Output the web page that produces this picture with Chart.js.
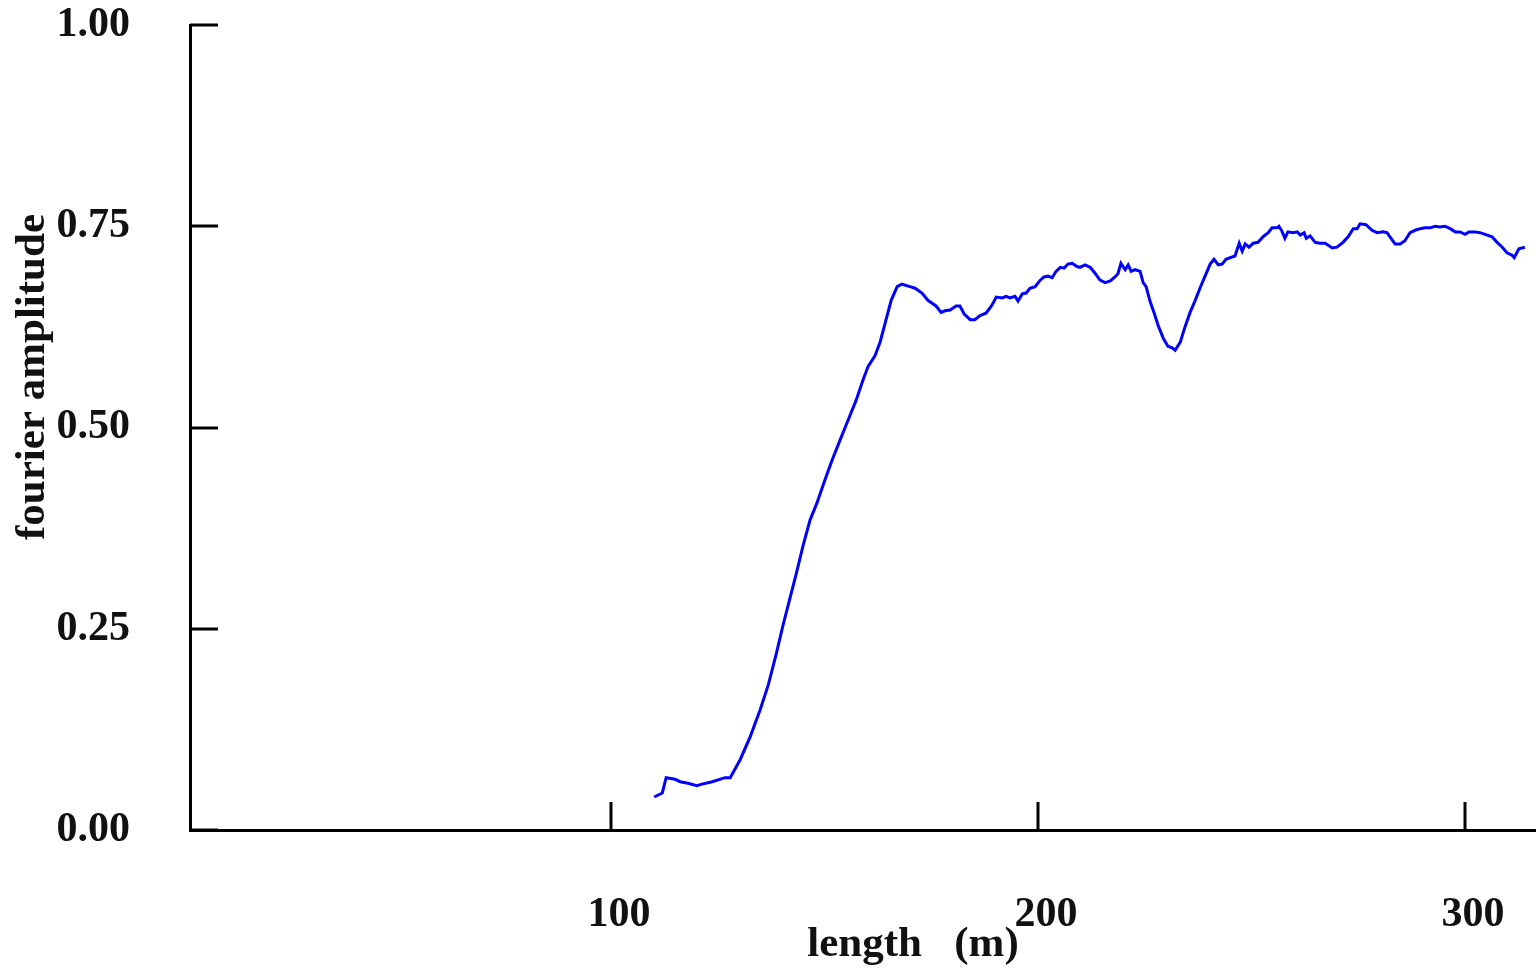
<!DOCTYPE html>
<html>
<head>
<meta charset="utf-8">
<script src="https://cdn.jsdelivr.net/npm/chart.js@4"></script>
<style>
  html, body { margin: 0; padding: 0; background: #fff; }
  #wrap { width: 1536px; height: 971px; position: relative; }
</style>
</head>
<body>
<div id="wrap"><canvas id="chart"></canvas></div>
<script>
// length (m) and fourier amplitude
const lengths = [110.1, 112.0, 112.9, 115.0, 116.2, 118.0, 120.1, 121.3, 123.7, 126.7, 127.9,
  130.2, 132.6, 134.9, 136.8, 138.6, 140.3, 141.9, 143.3, 145.0, 146.6, 148.2, 150.1, 151.8,
  153.6, 155.5, 157.4, 159.0, 160.2, 161.8, 163.0, 164.4, 165.6, 167.0, 168.1, 170.0, 171.2,
  172.8, 174.2, 176.1, 177.3, 178.2, 179.4, 180.8, 181.7, 182.7, 184.1, 185.2, 186.4, 187.8,
  189.2, 190.2, 191.6, 192.5, 193.4, 194.6, 195.3, 196.3, 197.2, 198.1, 199.3, 200.5, 201.4,
  202.3, 203.3, 204.2, 205.2, 206.1, 207.0, 208.0, 209.1, 209.8, 211.0, 212.2, 213.3, 214.5,
  215.7, 216.9, 218.0, 218.7, 219.4, 220.4, 221.1, 221.8, 222.7, 223.9, 224.6, 225.3, 226.2,
  227.2, 228.1, 229.3, 230.4, 231.4, 232.1, 233.3, 234.4, 235.6, 236.8, 237.9, 239.1, 240.3,
  241.2, 242.2, 243.1, 244.0, 245.0, 246.1, 247.1, 247.8, 248.5, 249.4, 250.4, 251.5, 252.7,
  253.9, 254.8, 256.0, 256.4, 257.1, 257.8, 258.5, 259.7, 260.7, 261.4, 262.3, 262.8, 263.7,
  264.9, 266.0, 267.2, 268.9, 270.0, 271.4, 272.6, 273.8, 274.7, 275.4, 276.8, 278.2, 279.4,
  280.8, 281.7, 282.9, 283.6, 284.8, 285.9, 287.1, 288.3, 289.5, 290.6, 291.8, 293.0, 294.1,
  295.3, 296.5, 297.7, 298.8, 300.0, 300.9, 302.3, 303.5, 304.7, 306.3, 307.5, 308.7, 309.8,
  311.0, 311.5, 312.6, 314.0];
const amplitudes = [0.041, 0.046, 0.065, 0.063, 0.060, 0.058, 0.055, 0.057, 0.060, 0.065, 0.065,
  0.087, 0.116, 0.149, 0.180, 0.217, 0.255, 0.288, 0.317, 0.354, 0.385, 0.406, 0.435, 0.460,
  0.484, 0.509, 0.534, 0.559, 0.576, 0.589, 0.606, 0.634, 0.658, 0.675, 0.678, 0.675, 0.673,
  0.667, 0.658, 0.651, 0.643, 0.645, 0.646, 0.651, 0.651, 0.641, 0.634, 0.634, 0.639, 0.642,
  0.652, 0.662, 0.661, 0.663, 0.661, 0.663, 0.657, 0.666, 0.667, 0.673, 0.675, 0.683, 0.687,
  0.688, 0.686, 0.694, 0.699, 0.698, 0.703, 0.704, 0.700, 0.699, 0.702, 0.699, 0.692, 0.683,
  0.680, 0.682, 0.687, 0.691, 0.704, 0.696, 0.702, 0.694, 0.696, 0.694, 0.680, 0.675, 0.657,
  0.642, 0.627, 0.611, 0.601, 0.599, 0.596, 0.606, 0.625, 0.643, 0.658, 0.673, 0.688, 0.703,
  0.709, 0.702, 0.703, 0.709, 0.711, 0.713, 0.729, 0.719, 0.728, 0.724, 0.729, 0.730, 0.737,
  0.742, 0.748, 0.748, 0.750, 0.744, 0.735, 0.743, 0.742, 0.743, 0.739, 0.742, 0.735, 0.738,
  0.730, 0.729, 0.729, 0.723, 0.724, 0.730, 0.737, 0.747, 0.747, 0.753, 0.752, 0.745, 0.742,
  0.743, 0.742, 0.733, 0.728, 0.728, 0.732, 0.742, 0.745, 0.747, 0.748, 0.748, 0.750, 0.749,
  0.750, 0.747, 0.743, 0.743, 0.740, 0.743, 0.743, 0.742, 0.740, 0.737, 0.730, 0.724, 0.717,
  0.714, 0.711, 0.722, 0.724];
const xTicks = [100, 200, 300];
const yTicks = [0, 0.25, 0.5, 0.75, 1.0];

const FONT = '"Liberation Serif", "DejaVu Serif", serif';

// no extra room for edge labels, the plot box is fixed
function fixBox(s) {
  s.paddingLeft = 0; s.paddingRight = 0; s.paddingTop = 0; s.paddingBottom = 0;
}

// ticks pointing into the plot area, titles placed like the original
const axisDecor = {
  id: 'axisDecor',
  afterDraw(chart) {
    const ctx = chart.ctx;
    const a = chart.chartArea;
    const xs = chart.scales.x, ys = chart.scales.y;
    ctx.save();
    ctx.strokeStyle = '#000';
    ctx.lineWidth = 3;
    ctx.beginPath();
    yTicks.forEach(v => {
      const py = Math.round(ys.getPixelForValue(v));
      ctx.moveTo(a.left, py);
      ctx.lineTo(a.left + 28, py);
    });
    xTicks.forEach(v => {
      const px = Math.round(xs.getPixelForValue(v));
      ctx.moveTo(px, a.bottom);
      ctx.lineTo(px, a.bottom - 28);
    });
    ctx.stroke();

    ctx.fillStyle = '#111';
    ctx.font = 'bold 43px ' + FONT;
    ctx.textAlign = 'center';
    ctx.textBaseline = 'middle';
    ctx.fillText('length   (m)', a.left + 723, a.bottom + 115);
    ctx.translate(33, a.top + 352);
    ctx.rotate(-Math.PI / 2);
    ctx.fillText('fourier amplitude', 0, 0);
    ctx.restore();
  }
};

new Chart(document.getElementById('chart'), {
  type: 'line',
  data: {
    datasets: [{
      data: lengths.map((x, i) => ({ x: x, y: amplitudes[i] })),
      borderColor: '#0000ff',
      borderWidth: 3,
      pointRadius: 0,
      tension: 0,
      fill: false
    }]
  },
  options: {
    responsive: true,
    maintainAspectRatio: false,
    animation: false,
    layout: { padding: { top: 25, right: 0, left: 0, bottom: 0 } },
    plugins: { legend: { display: false }, tooltip: { enabled: false } },
    scales: {
      x: {
        type: 'linear',
        min: 1.4,
        max: 316.6,
        afterBuildTicks: s => { s.ticks = xTicks.map(v => ({ value: v })); },
        afterFit: s => { s.height = 141; fixBox(s); },
        grid: { display: true, drawOnChartArea: false, drawTicks: false },
        border: { display: true, color: '#000', width: 3 },
        ticks: {
          padding: 60,
          labelOffset: 8,
          color: '#111',
          font: { family: FONT, size: 42, weight: 'bold' },
          maxRotation: 0,
          callback: v => String(v)
        }
      },
      y: {
        min: 0,
        max: 1,
        afterBuildTicks: s => { s.ticks = yTicks.map(v => ({ value: v })); },
        afterFit: s => { s.width = 190; fixBox(s); },
        grid: { display: true, drawOnChartArea: false, drawTicks: false },
        border: { display: true, color: '#000', width: 3 },
        ticks: {
          padding: 60,
          color: '#111',
          font: { family: FONT, size: 42, weight: 'bold' },
          callback: v => v.toFixed(2)
        }
      }
    }
  },
  plugins: [axisDecor]
});
</script>
</body>
</html>
